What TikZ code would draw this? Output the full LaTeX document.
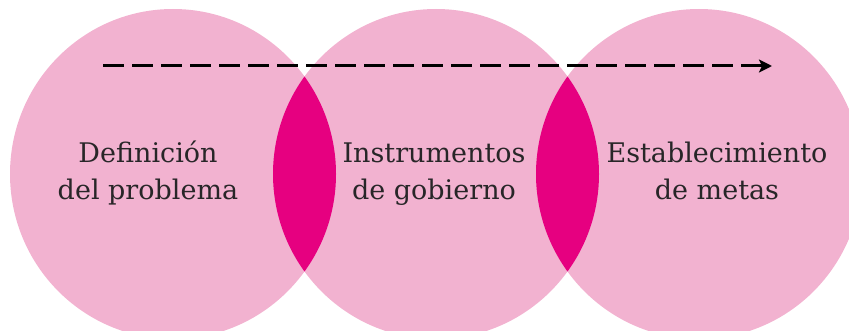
\documentclass[tikz,border=0pt]{standalone}
\usepackage{fontspec}
\setmainfont{DejaVu Serif}
\usetikzlibrary{arrows.meta,positioning}
\definecolor{blush}{RGB}{242,178,208}
\definecolor{magenta}{RGB}{230,0,128}
\definecolor{ink}{RGB}{40,38,40}
\tikzset{
  >={Stealth[length=13pt,width=13pt,inset=3pt]},
  stage/.style={fill=blush},
  lens/.style={fill=magenta},
  label/.style={text=ink,align=center,font=\fontsize{27}{37}\selectfont,inner sep=0pt},
  flow/.style={->,line width=3pt,draw=black,dash pattern=on 21pt off 8pt},
}
\begin{document}
\begin{tikzpicture}[x=1pt,y=-1pt]
    \useasboundingbox (0,0) rectangle (849,331);
    \clip (0,0) rectangle (849,331);
    % the three stages
    \fill[stage] (173,174) ellipse (163 and 165);
    \fill[stage] (436,174) ellipse (163 and 165);
    \fill[stage] (699,174) ellipse (163 and 165);
    % overlaps
    \begin{scope}
      \clip (436,174) ellipse (163 and 165);
      \fill[lens] (173,174) ellipse (163 and 165);
      \fill[lens] (699,174) ellipse (163 and 165);
    \end{scope}
    \node[label,anchor=base] (def) at (148,200) {Definición\\del problema};
    \node[label,anchor=base] (inst) at (434,200) {Instrumentos\\de gobierno};
    \node[label,anchor=base] (meta) at (717,200) {Establecimiento\\de metas};
    \coordinate (start) at (103,66);
    \coordinate (stop) at (772,66);
    \draw[flow] (start) -- (stop);
\end{tikzpicture}
\end{document}
